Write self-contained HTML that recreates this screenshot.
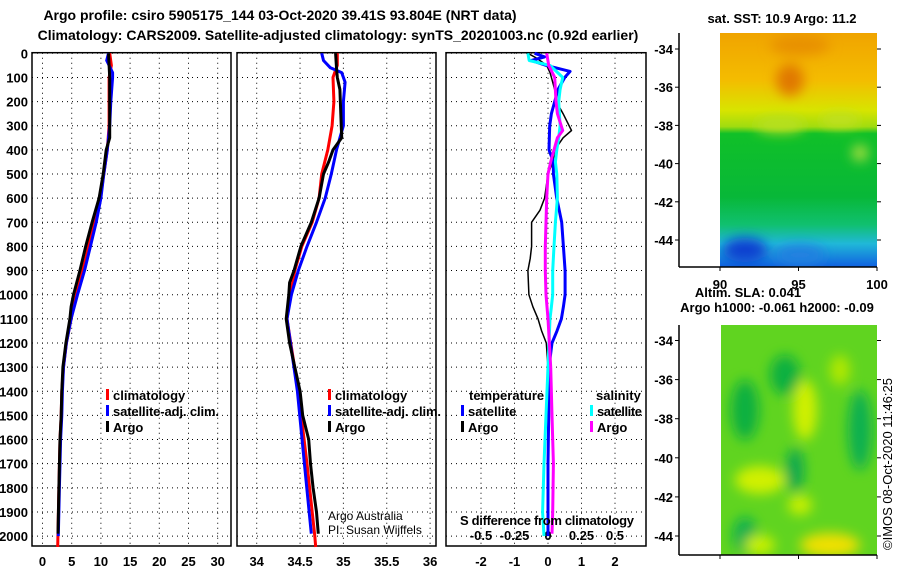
<!DOCTYPE html>
<html><head><meta charset="utf-8">
<style>
html,body{margin:0;padding:0;background:#fff;}
svg{display:block;font-family:"Liberation Sans",sans-serif;}
.b{font-weight:bold;font-size:13px;}
.t{font-weight:bold;font-size:14px;}
</style></head>
<body>
<svg id="chart" width="900" height="580" viewBox="0 0 900 580">
<defs>
<linearGradient id="sstg" x1="0" y1="0" x2="0" y2="1">
<stop offset="0" stop-color="#f0a400"/><stop offset="0.2" stop-color="#f4bc00"/>
<stop offset="0.33" stop-color="#d8e400"/><stop offset="0.4" stop-color="#a0dc10"/>
<stop offset="0.43" stop-color="#10c028"/><stop offset="0.7" stop-color="#08b838"/>
<stop offset="0.82" stop-color="#10c070"/><stop offset="0.9" stop-color="#20b8d8"/>
<stop offset="1" stop-color="#1060e0"/></linearGradient>
<filter id="bl" x="-50%" y="-50%" width="200%" height="200%"><feGaussianBlur stdDeviation="6"/></filter>
<clipPath id="m1c"><rect x="720" y="33" width="157" height="234"/></clipPath>
<clipPath id="m2c"><rect x="721" y="325" width="156" height="230"/></clipPath>
</defs>
<text class="t" x="280" y="20" text-anchor="middle">Argo profile: csiro 5905175_144 03-Oct-2020 39.41S 93.804E (NRT data)</text>
<text class="t" x="338" y="40" text-anchor="middle">Climatology: CARS2009. Satellite-adjusted climatology: synTS_20201003.nc (0.92d earlier)</text>
<g id="frames"></g>
<g id="lines"></g>
<g>
<rect x="106" y="389" width="3" height="11" fill="#f00"/><text class="b" x="113" y="400">climatology</text>
<rect x="106" y="405" width="3" height="11" fill="#00f"/><text class="b" x="113" y="416" textLength="106">satellite-adj. clim.</text>
<rect x="106" y="421" width="3" height="11" fill="#000"/><text class="b" x="113" y="432">Argo</text>
</g>
<g>
<rect x="328" y="389" width="3" height="11" fill="#f00"/><text class="b" x="335" y="400">climatology</text>
<rect x="328" y="405" width="3" height="11" fill="#00f"/><text class="b" x="335" y="416" textLength="106">satellite-adj. clim.</text>
<rect x="328" y="421" width="3" height="11" fill="#000"/><text class="b" x="335" y="432">Argo</text>
<text x="328" y="520" font-size="12">Argo Australia</text>
<text x="328" y="534" font-size="12">PI: Susan Wijffels</text>
</g>
<g>
<text class="b" x="469" y="400">temperature</text><text class="b" x="596" y="400">salinity</text>
<rect x="461" y="405" width="3" height="11" fill="#00f"/><text class="b" x="468" y="416">satellite</text>
<rect x="461" y="421" width="3" height="11" fill="#000"/><text class="b" x="468" y="432">Argo</text>
<rect x="590" y="405" width="3" height="11" fill="#0ff"/><text class="b" x="597" y="416" textLength="45">satellite</text>
<rect x="590" y="421" width="3" height="11" fill="#f0f"/><text class="b" x="597" y="432">Argo</text>
<text class="b" x="460" y="525" textLength="174">S difference from climatology</text>
</g>
<g id="maps">
<text class="b" x="782" y="23" text-anchor="middle">sat. SST: 10.9 Argo: 11.2</text>
<g clip-path="url(#m1c)">
<rect x="720" y="33" width="157" height="234" fill="url(#sstg)"/>
<g filter="url(#bl)">
<ellipse cx="790" cy="80" rx="14" ry="16" fill="#e07800"/>
<ellipse cx="800" cy="45" rx="30" ry="10" fill="#e89000"/>
<ellipse cx="745" cy="250" rx="22" ry="12" fill="#1040d0"/>
<ellipse cx="800" cy="255" rx="25" ry="10" fill="#2080e0"/>
<ellipse cx="860" cy="153" rx="8" ry="8" fill="#b0e040"/>
<ellipse cx="780" cy="125" rx="25" ry="8" fill="#b8e020"/>
<ellipse cx="840" cy="120" rx="20" ry="7" fill="#c0e020"/>
</g></g>
<text class="b" x="748" y="297" text-anchor="middle">Altim. SLA: 0.041</text>
<text class="b" x="777" y="312" text-anchor="middle">Argo h1000: -0.061 h2000: -0.09</text>
<g clip-path="url(#m2c)">
<rect x="720" y="325" width="157" height="232" fill="#60d420"/>
<g filter="url(#bl)">
<ellipse cx="745" cy="410" rx="14" ry="30" fill="#10b040"/>
<ellipse cx="785" cy="375" rx="15" ry="20" fill="#10b040"/>
<ellipse cx="860" cy="430" rx="12" ry="40" fill="#10b050"/>
<ellipse cx="795" cy="470" rx="9" ry="22" fill="#10a850"/>
<ellipse cx="745" cy="535" rx="12" ry="18" fill="#10b050"/>
<ellipse cx="805" cy="410" rx="12" ry="30" fill="#d0f000"/>
<ellipse cx="760" cy="480" rx="25" ry="14" fill="#d0f000"/>
<ellipse cx="830" cy="545" rx="30" ry="12" fill="#f0e000"/>
<ellipse cx="760" cy="545" rx="15" ry="10" fill="#c8f000"/>
<ellipse cx="840" cy="370" rx="10" ry="15" fill="#b0e800"/>
<ellipse cx="800" cy="505" rx="12" ry="10" fill="#c8f000"/>
</g></g>
<text x="892" y="550" font-size="13" transform="rotate(-90 892 550)">©IMOS 08-Oct-2020 11:46:25</text>
</g>
</svg>
<script>
// ---- data ----
const depthTicks = [0,100,200,300,400,500,600,700,800,900,1000,1100,1200,1300,1400,1500,1600,1700,1800,1900,2000];
const tempTicks = [0,5,10,15,20,25,30];
const salTicks = [34,34.5,35,35.5,36];
const diffTicks = [-2,-1,0,1,2];
const sDiffTicks = [-0.5,-0.25,0,0.25,0.5];
const latTicks = [-34,-36,-38,-40,-42,-44];
const lonTicks = [90,95,100];

const argoDepth = [0,100,200,350,400,500,600,700,800,900,1000,1050,1100,1200,1300,1400,1500,1600,1800,1990];
const argoTemp  = [11.3,11.5,11.5,11.5,10.9,10.4,9.7,8.5,7.4,6.4,5.3,4.9,4.7,4.0,3.5,3.3,3.2,3.0,2.8,2.65];
const climDepth = [0,50,100,300,400,500,600,700,800,900,1000,1100,1200,1300,1400,1500,1600,1800,2045];
const climTemp  = [11.5,11.8,11.4,11.4,11.1,10.5,9.9,8.9,7.9,6.9,5.8,4.9,4.1,3.6,3.3,3.2,3.0,2.8,2.6];
const satDepth  = [0,30,80,100,200,300,400,500,600,700,800,900,1000,1100,1200,1300,1400,1500,1600,1800,2000];
const satTemp   = [11.3,11.0,12.0,12.0,11.7,11.5,11.1,10.5,10.0,9.2,8.2,7.2,6.0,4.9,4.1,3.6,3.4,3.3,3.1,2.9,2.7];

const argoSalDepth = [0,60,100,150,250,350,400,450,500,600,700,800,900,950,1000,1100,1200,1300,1400,1500,1600,1700,1800,1900,1990];
const argoSal = [34.91,34.92,34.93,34.96,34.97,34.98,34.88,34.83,34.77,34.72,34.63,34.51,34.43,34.38,34.37,34.34,34.38,34.44,34.50,34.53,34.60,34.62,34.65,34.69,34.71];
const climSalDepth = [0,50,100,200,300,400,500,600,700,800,900,1000,1100,1400,1700,2000,2045];
const climSal = [34.93,34.93,34.88,34.89,34.87,34.82,34.75,34.72,34.64,34.52,34.44,34.39,34.35,34.48,34.58,34.67,34.68];
const satSalDepth = [0,30,60,80,120,200,300,350,400,500,600,700,800,900,1000,1100,1400,1700,1990];
const satSal = [34.75,34.77,34.85,34.98,35.02,35.0,35.0,34.96,34.92,34.86,34.79,34.69,34.58,34.48,34.40,34.35,34.47,34.55,34.63];

const dTArgoDepth = [0,20,50,80,100,150,200,250,320,350,400,450,500,600,650,700,800,850,900,1000,1050,1100,1150,1200,1300,1500,1700,1900,1990];
const dTArgo = [-0.6,-0.34,-0.04,0.06,0.1,0.2,0.25,0.45,0.7,0.45,0.2,0.15,0,-0.1,-0.24,-0.49,-0.49,-0.53,-0.6,-0.57,-0.45,-0.3,-0.19,-0.05,0,0.02,0.02,0.0,0.0];
const dTSatDepth = [0,15,30,50,75,100,150,200,250,300,400,450,500,600,700,800,900,1000,1050,1100,1150,1200,1300,1500,1700,2000];
const dTSat = [-0.4,-0.1,-0.5,-0.05,0.66,0.5,0.3,0.2,0.1,0.05,0.03,0.16,0.16,0.26,0.41,0.46,0.51,0.51,0.46,0.4,0.27,0.12,0.03,0.02,0.0,0.0];
const dSSatDepth = [0,30,50,100,150,200,300,350,400,450,500,600,700,800,900,1000,1050,1100,1300,1500,1700,1900,2000];
const dSSat = [-0.15,-0.14,0.015,0.11,0.09,0.08,0.09,0.08,0.066,0.055,0.066,0.07,0.055,0.045,0.035,0.035,0.025,0.015,0,-0.015,-0.03,-0.04,-0.03];
const dSArgoDepth = [0,50,100,200,250,320,350,400,450,500,600,700,800,900,1000,1100,1300,1500,1700,1900,1990];
const dSArgo = [-0.01,0.005,0.05,0.06,0.07,0.11,0.07,0.045,0.02,0.0,-0.01,-0.015,-0.02,-0.02,-0.015,0,0.02,0.03,0.04,0.035,0.03];

// ---- axes ----
const Y0 = 53.3, PPD = 0.2414;
const yD = d => Y0 + d*PPD;
const xT = v => 42.5 + v*5.84;
const xS = v => 256.7 + (v-34)*86.7;
const xDT = v => 548 + v*33.5;
const xDS = v => 548 + v*134;
const yLat1 = v => 49 + (-34 - v)*19.1;
const yLat2 = v => 340.5 + (-34 - v)*19.55;
const xLon = v => 720 + (v-90)*15.7;

const NS = 'http://www.w3.org/2000/svg';
function mk(tag, attrs, parent){const e=document.createElementNS(NS,tag);for(const k in attrs)e.setAttribute(k,attrs[k]);parent.appendChild(e);return e;}
const frames = document.getElementById('frames');
const linesG = document.getElementById('lines');
const panels = [
 {name:'temperature-panel', x0:32, x1:231, ticks:tempTicks, fx:xT},
 {name:'salinity-panel', x0:237, x1:436, ticks:salTicks, fx:xS},
 {name:'difference-panel', x0:446, x1:646, ticks:diffTicks, fx:xDT}
];
panels.forEach(p=>{
  const g = mk('g',{},frames);
  
  
  p.ticks.forEach(t=>{
    const x = p.fx(t);
    const l = mk('line',{x1:x,x2:x,y1:52.7,y2:546,stroke:'#000','stroke-width':1,'stroke-dasharray':'1 4'},g);
    
    
    const tx = mk('text',{x:x,y:566,'text-anchor':'middle','class':'b'},g);
    tx.textContent = String(t);
    
    
  });
  depthTicks.forEach(d=>{
    const y = yD(d);
    const l = mk('line',{x1:p.x0,x2:p.x1,y1:y,y2:y,stroke:'#000','stroke-width':1,'stroke-dasharray':'1 4'},g);
    
    
  });
  const r = mk('rect',{x:p.x0,y:52.7,width:p.x1-p.x0,height:493.3,fill:'none',stroke:'#000','stroke-width':1.5},g);
  
  
});
depthTicks.forEach(d=>{
  const tx = mk('text',{x:28,y:yD(d)+5,'text-anchor':'end','class':'b'},frames);
  tx.textContent = String(d);
  
  
});
sDiffTicks.forEach(s=>{
  const tx = mk('text',{x:xDS(s),y:540,'text-anchor':'middle','class':'b'},frames);
  tx.textContent = String(s);
  
  
});

function drawLine(depths, vals, fx, color, w, name){
  const pts = depths.map((d,i)=>fx(vals[i]).toFixed(1)+','+yD(d).toFixed(1)).join(' ');
  const pl = mk('polyline',{points:pts,fill:'none',stroke:color,'stroke-width':w,'stroke-linejoin':'round'},linesG);
  
  
}
drawLine(climDepth, climTemp, xT, '#f00', 3, 'temp-climatology-line');
drawLine(satDepth, satTemp, xT, '#00f', 3, 'temp-satellite-line');
drawLine(argoDepth, argoTemp, xT, '#000', 3, 'temp-argo-line');
drawLine(climSalDepth, climSal, xS, '#f00', 3, 'sal-climatology-line');
drawLine(satSalDepth, satSal, xS, '#00f', 3, 'sal-satellite-line');
drawLine(argoSalDepth, argoSal, xS, '#000', 3, 'sal-argo-line');
drawLine(dTArgoDepth, dTArgo, xDT, '#000', 1.5, 'temp-diff-argo-line');
drawLine(dTSatDepth, dTSat, xDT, '#00f', 3, 'temp-diff-satellite-line');
drawLine(dSSatDepth, dSSat, xDS, '#0ff', 3, 'sal-diff-satellite-line');
drawLine(dSArgoDepth, dSArgo, xDS, '#f0f', 3, 'sal-diff-argo-line');

// map axes
const maps = document.getElementById('maps');
function mapAxes(top, bottom, fy, name, lonLabels){
  const g = mk('g',{},maps);
  
  
  mk('line',{x1:679,x2:679,y1:top,y2:bottom,stroke:'#000','stroke-width':1.5},g);
  mk('line',{x1:679,x2:877,y1:bottom,y2:bottom,stroke:'#000','stroke-width':1.5},g);
  latTicks.forEach(v=>{
    const y = fy(v);
    mk('line',{x1:675,x2:679,y1:y,y2:y,stroke:'#000'},g);
    mk('line',{x1:877,x2:881,y1:y,y2:y,stroke:'#000'},g);
    const tx = mk('text',{x:673,y:y+5,'text-anchor':'end','class':'b'},g);
    tx.textContent = String(v);
    
    
  });
  lonTicks.forEach(v=>{
    const x = xLon(v);
    mk('line',{x1:x,x2:x,y1:bottom,y2:bottom+4,stroke:'#000'},g);
    if(lonLabels){
      const tx = mk('text',{x:x,y:bottom+22,'text-anchor':'middle','class':'b'},g);
      tx.textContent = String(v);
      
      
    }
  });
}
mapAxes(33, 267, yLat1, 'sst-map-axes', true);
mapAxes(325, 555, yLat2, 'sla-map-axes', false);
</script>
</body></html>
